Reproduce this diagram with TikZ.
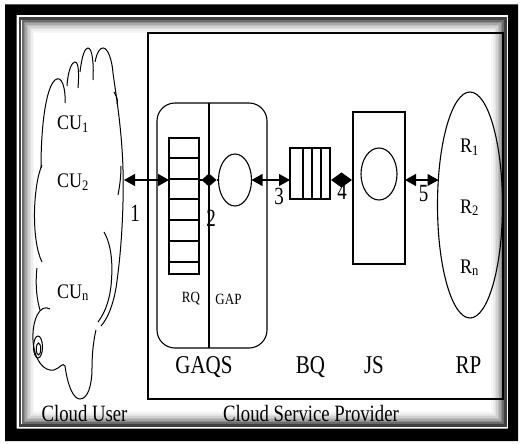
\documentclass[tikz,border=0pt]{standalone}
\usepackage{fontspec}
\setmainfont{Liberation Serif}
\usetikzlibrary{shapes.geometric,arrows.meta}
\newcommand{\vst}[2][1.25]{\scalebox{1}[#1]{#2}}
\begin{document}
\begin{tikzpicture}[x=1pt,y=-1pt,
  ln/.style={line width=1.1pt, black},
  shp/.style={draw, line width=1.1pt, inner sep=0pt, outer sep=0pt},
  dbl/.style={line width=1.1pt, {Triangle[length=11pt,width=12pt]}-{Triangle[length=11pt,width=12pt]}},
  dia/.style={diamond, fill=black, inner sep=0pt, outer sep=0pt},
  cl/.style={line width=1pt, black},
  txt/.style={inner sep=0pt, outer sep=0pt, text=black}]
\useasboundingbox (0,0) rectangle (523,444);
% frame
\fill[black, even odd rule] (5,4.5) rectangle (518,441) (16.5,15) rectangle (508,428.5);
\draw[black!75, line width=2.5pt] (20,18.5) rectangle (505.5,425.5);
\foreach \i/\g in {1/58,2/45,3/34,4/25,5/18,6/12,7/7,8/3}
  \draw[black!\g, line width=1.6pt] (21.3+1.5*\i,19.8+1.5*\i) rectangle (504.2-1.5*\i,424.2-1.5*\i);
% cloud
\draw[cl] (41,168) .. controls (41,125) and (46,88) .. (55,80) .. controls (62,74) and (66,90) .. (65,103);
\draw[cl] (67,86) .. controls (68,70) and (72,62) .. (75,62) .. controls (79,62) and (79,75) .. (78,88);
\draw[cl] (80,72) .. controls (82,55) and (85,48) .. (88,48) .. controls (92,48) and (94,62) .. (93,80);
\draw[cl] (95,62) .. controls (97,52) and (100,48) .. (103,48) .. controls (108,48) and (112,60) .. (113,73)
  .. controls (116,95) and (122,130) .. (123,170) .. controls (124,210) and (121,255) .. (116,288)
  .. controls (113,305) and (108,318) .. (101,326);
\draw[cl] (114,92) .. controls (117,97) and (118,100) .. (117,104);
\draw[cl] (118,195) .. controls (120,185) and (121,175) .. (121,166);
\draw[cl] (42,165) .. controls (33,185) and (31,240) .. (42,262);
\draw[cl] (37,268) .. controls (35,285) and (37,300) .. (40,310);
\draw[cl] (50,309) .. controls (40,303) and (32,320) .. (33,340) .. controls (34,360) and (44,372) .. (54,370)
  .. controls (60,368) and (63,362) .. (65,366) .. controls (68,388) and (74,399) .. (80,399)
  .. controls (88,399) and (92,385) .. (92,368) .. controls (92,352) and (94,338) .. (96,330);
\draw[cl] (104,232) .. controls (112,246) and (113,266) .. (111,286) .. controls (109,303) and (104,314) .. (98,322);
\draw[cl] (38,347) ellipse (4.5pt and 11pt);
\draw[cl] (38.5,349) ellipse (2.2pt and 6pt);
\coordinate (cloudR) at (124,180);
% cloud texts
\node[txt, anchor=base west, font=\fontsize{18}{18}\selectfont] (cu1) at (57,130) {\vst[1.15]{CU\textsubscript{1}}};
\node[txt, anchor=base west, font=\fontsize{18}{18}\selectfont] (cu2) at (57,188) {\vst[1.15]{CU\textsubscript{2}}};
\node[txt, anchor=base west, font=\fontsize{18}{18}\selectfont] (cun) at (57,298) {\vst[1.15]{CU\textsubscript{n}}};
% CSP box
\node[shp, anchor=north west, minimum width=355pt, minimum height=366pt] (csp) at (148,33) {};
% GAQS
\node[shp, rounded corners=18pt, minimum width=110pt, minimum height=245pt] (gaqs) at (212,225.5) {};
\coordinate (divtop) at (209,103);
\coordinate (divbot) at (209,348);
\draw[ln] (divtop) -- (divbot);
\node[shp, anchor=north west, minimum width=30pt, minimum height=136pt] (rq) at (169,138) {};
\foreach \yy in {158,179,199,220,241,262}
  \draw[ln] (rq.west |- 0,\yy) -- (rq.east |- 0,\yy);
\node[shp, ellipse, minimum width=33pt, minimum height=52pt] (gap) at (235,180) {};
\node[txt, font=\fontsize{13}{13}\selectfont] (rqt) at (191,299) {\vst[1.2]{RQ}};
\node[txt, font=\fontsize{13}{13}\selectfont] (gapt) at (228.5,299) {\vst[1.2]{GAP}};
% BQ
\node[shp, anchor=north west, minimum width=40pt, minimum height=51pt] (bq) at (290,148) {};
\foreach \xx in {303,312,321}
  \draw[ln] (bq.north -| \xx,0) -- (bq.south -| \xx,0);
% JS
\node[shp, anchor=north west, minimum width=52pt, minimum height=152pt] (js) at (353,112) {};
\node[shp, ellipse, minimum width=36pt, minimum height=52pt] (jsc) at (379,174) {};
% RP
\node[shp, ellipse, minimum width=65pt, minimum height=226pt] (rp) at (470,205) {};
\coordinate (rpin) at (438.5,180);
\node[txt, anchor=base west, font=\fontsize{18}{18}\selectfont] (r1) at (460,153) {\vst[1.15]{R\textsubscript{1}}};
\node[txt, anchor=base west, font=\fontsize{18}{18}\selectfont] (r2) at (460,213) {\vst[1.15]{R\textsubscript{2}}};
\node[txt, anchor=base west, font=\fontsize{18}{18}\selectfont] (rn) at (460,273) {\vst[1.15]{R\textsubscript{n}}};
% connectors
\draw[dbl] (cloudR) -- (cloudR -| rq.west);
\node[dia, minimum width=15pt, minimum height=13pt] (d2) at (209,180) {};
\draw[ln] (rq.east |- d2) -- (d2.west);
\draw[ln] (d2.east) -- (gap.west);
\draw[dbl] (gap.east) -- (gap.east -| bq.west);
\node[dia, minimum width=21pt, minimum height=15pt] (d4) at (341.5,180) {};
\draw[ln] (bq.east |- d4) -- (d4.west);
\draw[ln] (d4.east) -- (d4.east -| js.west);
\draw[dbl] (js.east |- rpin) -- (rpin);
% numbers
\node[txt, font=\fontsize{19}{19}\selectfont] (n1) at (135,213) {\vst[1.3]{1}};
\node[txt, font=\fontsize{19}{19}\selectfont] (n2) at (211,218) {\vst[1.3]{2}};
\node[txt, font=\fontsize{19}{19}\selectfont] (n3) at (279,196) {\vst[1.3]{3}};
\node[txt, font=\fontsize{19}{19}\selectfont] (n4) at (342,191) {\vst[1.3]{4}};
\node[txt, font=\fontsize{19}{19}\selectfont] (n5) at (423.5,194) {\vst[1.3]{5}};
% bottom labels
\node[txt, anchor=base, font=\fontsize{21}{21}\selectfont] (lgaqs) at (204,373) {\vst[1.22]{GAQS}};
\node[txt, anchor=base, font=\fontsize{21}{21}\selectfont] (lbq) at (310.5,373) {\vst[1.22]{BQ}};
\node[txt, anchor=base, font=\fontsize{21}{21}\selectfont] (ljs) at (374,373) {\vst[1.22]{JS}};
\node[txt, anchor=base, font=\fontsize{21}{21}\selectfont] (lrp) at (468.5,373) {\vst[1.22]{RP}};
\node[txt, anchor=base, font=\fontsize{18.7}{18.7}\selectfont] (lcu) at (84.5,421) {\vst[1.25]{Cloud User}};
\node[txt, anchor=base, font=\fontsize{18.7}{18.7}\selectfont] (lcsp) at (311,421) {\vst[1.25]{Cloud Service Provider}};
\end{tikzpicture}
\end{document}
